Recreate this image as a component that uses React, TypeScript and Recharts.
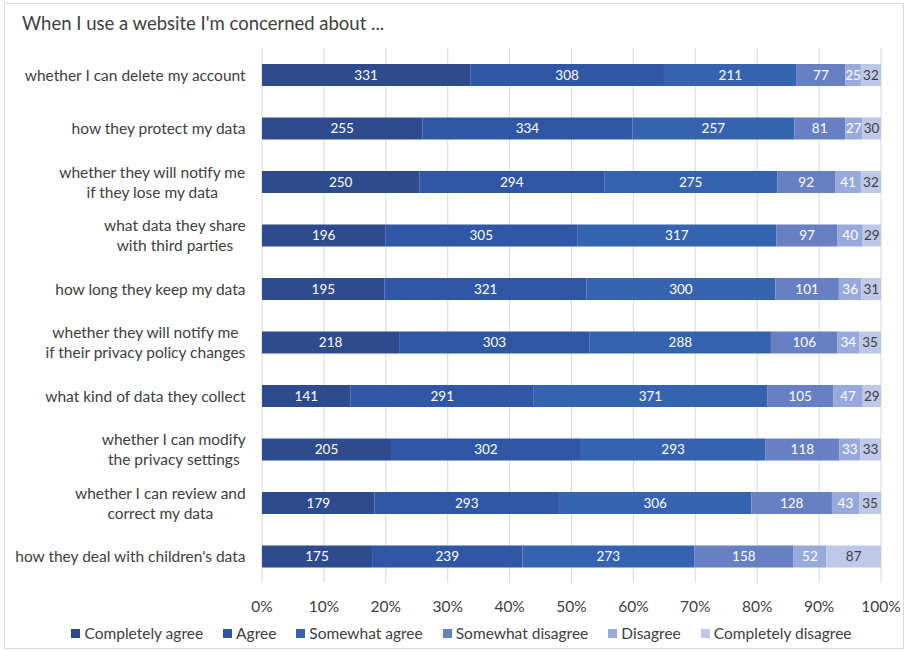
import { BarChart, Bar, XAxis, YAxis, CartesianGrid, Legend, LabelList } from 'recharts'

const categories = [
  'whether I can delete my account',
  'how they protect my data',
  'whether they will notify me\nif they lose my data',
  'what data they share\nwith third parties',
  'how long they keep my data',
  'whether they will notify me\nif their privacy policy changes',
  'what kind of data they collect',
  'whether I can modify\nthe privacy settings',
  'whether I can review and\ncorrect my data',
  "how they deal with children's data",
]

const completelyAgree = [331, 255, 250, 196, 195, 218, 141, 205, 179, 175]
const agree = [308, 334, 294, 305, 321, 303, 291, 302, 293, 239]
const somewhatAgree = [211, 257, 275, 317, 300, 288, 371, 293, 306, 273]
const somewhatDisagree = [77, 81, 92, 97, 101, 106, 105, 118, 128, 158]
const disagree = [25, 27, 41, 40, 36, 34, 47, 33, 43, 52]
const completelyDisagree = [32, 30, 32, 29, 31, 35, 29, 33, 35, 87]

const xTicks = [0, 0.1, 0.2, 0.3, 0.4, 0.5, 0.6, 0.7, 0.8, 0.9, 1]

const series = [
  { key: 'ca', name: 'Completely agree', color: '#2e4b8e', values: completelyAgree, text: '#ffffff' },
  { key: 'a', name: 'Agree', color: '#3056a6', values: agree, text: '#ffffff' },
  { key: 'sa', name: 'Somewhat agree', color: '#3663b0', values: somewhatAgree, text: '#ffffff' },
  { key: 'sd', name: 'Somewhat disagree', color: '#6680c3', values: somewhatDisagree, text: '#ffffff' },
  { key: 'd', name: 'Disagree', color: '#98aadb', values: disagree, text: '#ffffff' },
  { key: 'cd', name: 'Completely disagree', color: '#bec8e8', values: completelyDisagree, text: '#404040' },
]

const rows = categories.map((label, i) => {
  const row: Record<string, string | number> = { label }
  series.forEach((s) => {
    row[s.key] = s.values[i]
  })
  return row
})

const FONT = 'Lato, "Open Sans", sans-serif'
const TEXT = '#404040'
const SIZE = 15.5

let measureCtx: CanvasRenderingContext2D | null = null
function textWidth(str: string, size: number) {
  if (!measureCtx) measureCtx = document.createElement('canvas').getContext('2d')
  if (!measureCtx) return str.length * size * 0.5
  measureCtx.font = `${size}px ${FONT}`
  return measureCtx.measureText(str).width
}

// category labels: block right-aligned, lines centred inside the block
function CategoryTick(props: any) {
  const { x, y, payload } = props
  const lines: string[] = String(payload.value).split('\n')
  const w = Math.max(...lines.map((l) => textWidth(l, SIZE)))
  const cx = x - 8 - w / 2
  const lh = 20
  const y0 = y - ((lines.length - 1) * lh) / 2
  return (
    <text x={cx} y={y0} textAnchor="middle" fill={TEXT} fontSize={SIZE} fontFamily={FONT} dominantBaseline="central">
      {lines.map((l, i) => (
        <tspan key={i} x={cx} y={y0 + i * lh}>
          {l}
        </tspan>
      ))}
    </text>
  )
}

// legend kept in series order
function LegendRow() {
  return (
    <div
      style={{
        position: 'relative',
        top: 7,
        left: 21,
        display: 'flex',
        justifyContent: 'center',
        gap: 20,
        fontSize: SIZE,
        fontFamily: FONT,
        color: TEXT,
      }}
    >
      {series.map((s) => (
        <span key={s.key} style={{ display: 'flex', alignItems: 'center' }}>
          <span style={{ width: 9, height: 9, background: s.color, marginRight: 4, display: 'inline-block' }} />
          {s.name}
        </span>
      ))}
    </div>
  )
}

export default function App() {
  return (
    <div style={{ position: 'absolute', left: 0, top: 0, width: 907, height: 652, background: '#fff', fontFamily: FONT }}>
      <div
        style={{
          position: 'absolute',
          left: 4,
          top: 3,
          width: 898,
          height: 644,
          border: '1px solid #d9d9d9',
        }}
      />
      <div style={{ position: 'absolute', left: 22, top: 12, fontSize: 18.5, color: TEXT }}>
        When I use a website I'm concerned about ...
      </div>
      <div style={{ position: 'absolute', left: 0, top: 0 }}>
        <BarChart
          width={907}
          height={652}
          data={rows}
          layout="vertical"
          stackOffset="expand"
          barSize={22}
          margin={{ top: 48, right: 26, bottom: 17, left: 0 }}
        >
          <CartesianGrid horizontal={false} stroke="#d9d9d9" />
          <XAxis
            type="number"
            domain={[0, 1]}
            ticks={xTicks}
            tickFormatter={(v: number) => `${Math.round(v * 100)}%`}
            axisLine={false}
            tickLine={false}
            tick={{ fill: TEXT, fontSize: SIZE, fontFamily: FONT }}
            tickMargin={12}
            height={34}
          />
          <YAxis
            type="category"
            dataKey="label"
            width={262}
            axisLine={false}
            tickLine={false}
            tick={<CategoryTick />}
            interval={0}
          />
          <Legend verticalAlign="bottom" content={<LegendRow />} />
          {series.map((s) => (
            <Bar key={s.key} dataKey={s.key} name={s.name} stackId="all" fill={s.color} isAnimationActive={false}>
              <LabelList
                dataKey={s.key}
                position="center"
                fill={s.text}
                fontSize={13.5}
                fontFamily={FONT}
              />
            </Bar>
          ))}
        </BarChart>
      </div>
    </div>
  )
}
